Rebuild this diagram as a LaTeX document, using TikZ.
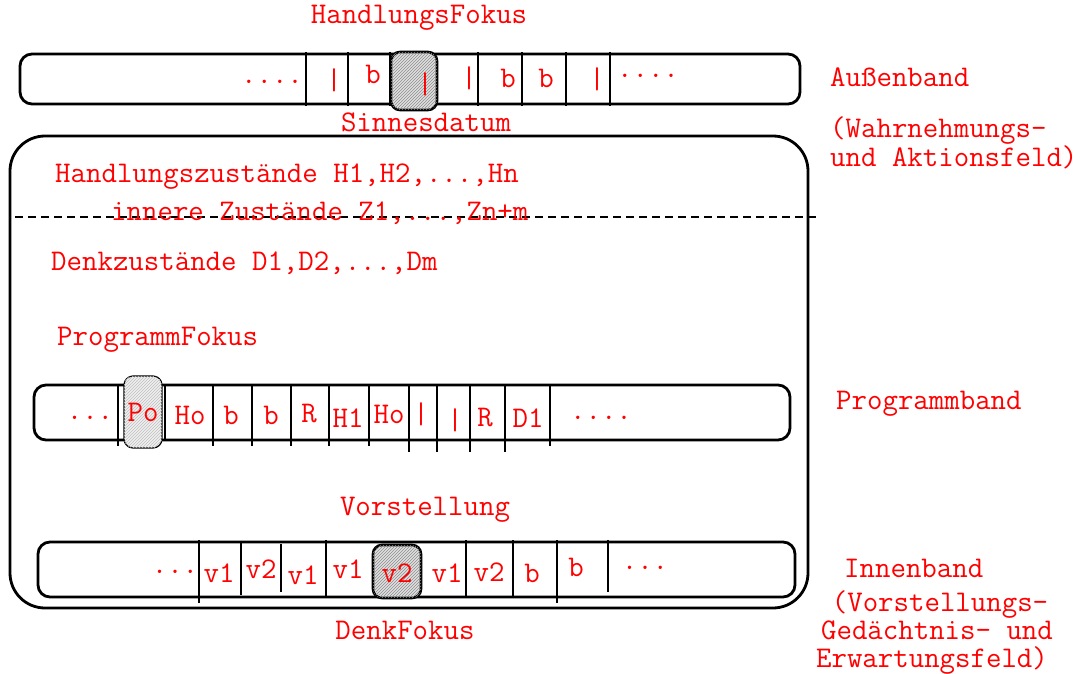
\documentclass[tikz,border=0pt]{standalone}
\usetikzlibrary{patterns}
\tikzset{
  lbl/.style={text=red, inner sep=0pt, font=\fontsize{30}{34}\selectfont\ttfamily},
  band/.style={draw=black, line width=2.8pt, rounded corners=12pt},
  divider/.style={draw=black, line width=1.3pt},
  focus/.style={draw=black, line width=2.6pt, rounded corners=9pt, fill=black!12, postaction={pattern=north east lines, pattern color=black!45}},
  focusthin/.style={draw=black, line width=1.2pt, rounded corners=9pt, fill=black!6, postaction={pattern=north east lines, pattern color=black!25}},
}
\begin{document}
\begin{tikzpicture}[x=1pt,y=-1pt]
\useasboundingbox (0,0) rectangle (1092,674);
% ---- Aussenband ----
\node[lbl] (hf) at (419,18) {HandlungsFokus};
\draw[band] (20,54) rectangle (800,104);
\foreach \x in {306,348,390,478,522,566,610}{\draw[divider] (\x,52) -- (\x,106);}
\draw[focus] (391,52) rectangle (437,110);
\node[lbl] (a1) at (272,82) {....};
\node[lbl] (a2) at (334,80) {|};
\node[lbl] (a3) at (373,74) {b};
\node[lbl] (a4) at (425,84) {|};
\node[lbl] (a5) at (469,78) {|};
\node[lbl] (a6) at (508,78) {b};
\node[lbl] (a7) at (546,78) {b};
\node[lbl] (a8) at (597,79) {|};
\node[lbl] (a9) at (648,76) {....};
\node[lbl] (sd) at (426,122) {Sinnesdatum};
\node[lbl, anchor=west] (ab) at (830,77) {Außenband};
\node[lbl, anchor=west] (wa1) at (830,131) {(Wahrnehmungs-};
\node[lbl, anchor=west] (wa2) at (830,157) {und Aktionsfeld)};
% ---- big frame ----
\draw[draw=black, line width=2.8pt, rounded corners=35pt] (10,136) rectangle (808,608);
\node[lbl, anchor=west] (hz) at (55,177) {Handlungszustände H1,H2,...,Hn};
\draw[dash pattern=on 8pt off 5pt, line width=1.2pt] (15,217) -- (818,217);
\node[lbl, anchor=west] (iz) at (111,213) {innere Zustände Z1,...,Zn+m};
\node[lbl, anchor=west] (dz) at (51,263) {Denkzustände D1,D2,...,Dm};
\node[lbl, anchor=west] (pf) at (57,340) {ProgrammFokus};
% ---- Programmband ----
\draw[band] (34,385) rectangle (790,440);
\foreach \x in {118,213,252,291,329,369,550}{\draw[divider] (\x,385) -- (\x,446);}
\foreach \x in {165}{\draw[divider] (\x,385) -- (\x,440);}
\foreach \x in {409,437,470,505}{\draw[divider] (\x,385) -- (\x,452);}
\draw[focusthin] (124,376) rectangle (162,448);
\node[lbl] (p0) at (90,418) {...};
\node[lbl] (p1) at (143,412) {Po};
\node[lbl] (p2) at (190,415) {Ho};
\node[lbl] (p3) at (231,415) {b};
\node[lbl] (p4) at (271,415) {b};
\node[lbl] (p5) at (309,414) {R};
\node[lbl] (p6) at (348,418) {H1};
\node[lbl] (p7) at (389,414) {Ho};
\node[lbl] (p8) at (421,414) {|};
\node[lbl] (p9) at (455,420) {|};
\node[lbl] (p10) at (485,418) {R};
\node[lbl] (p11) at (528,418) {D1};
\node[lbl] (p12) at (601,418) {....};
\node[lbl, anchor=west] (pb) at (836,404) {Programmband};
% ---- Innenband ----
\node[lbl] (vs) at (425,510) {Vorstellung};
\draw[band] (38,542) rectangle (795,597);
\draw[divider] (199,540) -- (199,603);
\draw[divider] (241,542) -- (241,595);
\draw[divider] (281,544) -- (281,592);
\draw[divider] (326,540) -- (326,597);
\draw[divider] (466,540) -- (466,597);
\draw[divider] (513,540) -- (513,597);
\draw[divider] (557,540) -- (557,603);
\draw[divider] (608,540) -- (608,592);
\draw[focus] (373,545) rectangle (421,598);
\node[lbl] (v0) at (175,572) {...};
\node[lbl] (v1) at (219,573) {v1};
\node[lbl] (v2) at (261,569) {v2};
\node[lbl] (v3) at (303,575) {v1};
\node[lbl] (v4) at (348,569) {v1};
\node[lbl] (v5) at (397,573) {v2};
\node[lbl] (v6) at (447,573) {v1};
\node[lbl] (v7) at (489,572) {v2};
\node[lbl] (v8) at (532,573) {b};
\node[lbl] (v9) at (576,567) {b};
\node[lbl] (v10) at (645,568) {...};
\node[lbl] (df) at (405,630) {DenkFokus};
\node[lbl, anchor=west] (ib) at (844,568) {Innenband};
\node[lbl] (ve1) at (940,605) {(Vorstellungs-};
\node[lbl] (ve2) at (937,630) {Gedächtnis- und};
\node[lbl] (ve3) at (932,661) {Erwartungsfeld)};
\end{tikzpicture}
\end{document}
